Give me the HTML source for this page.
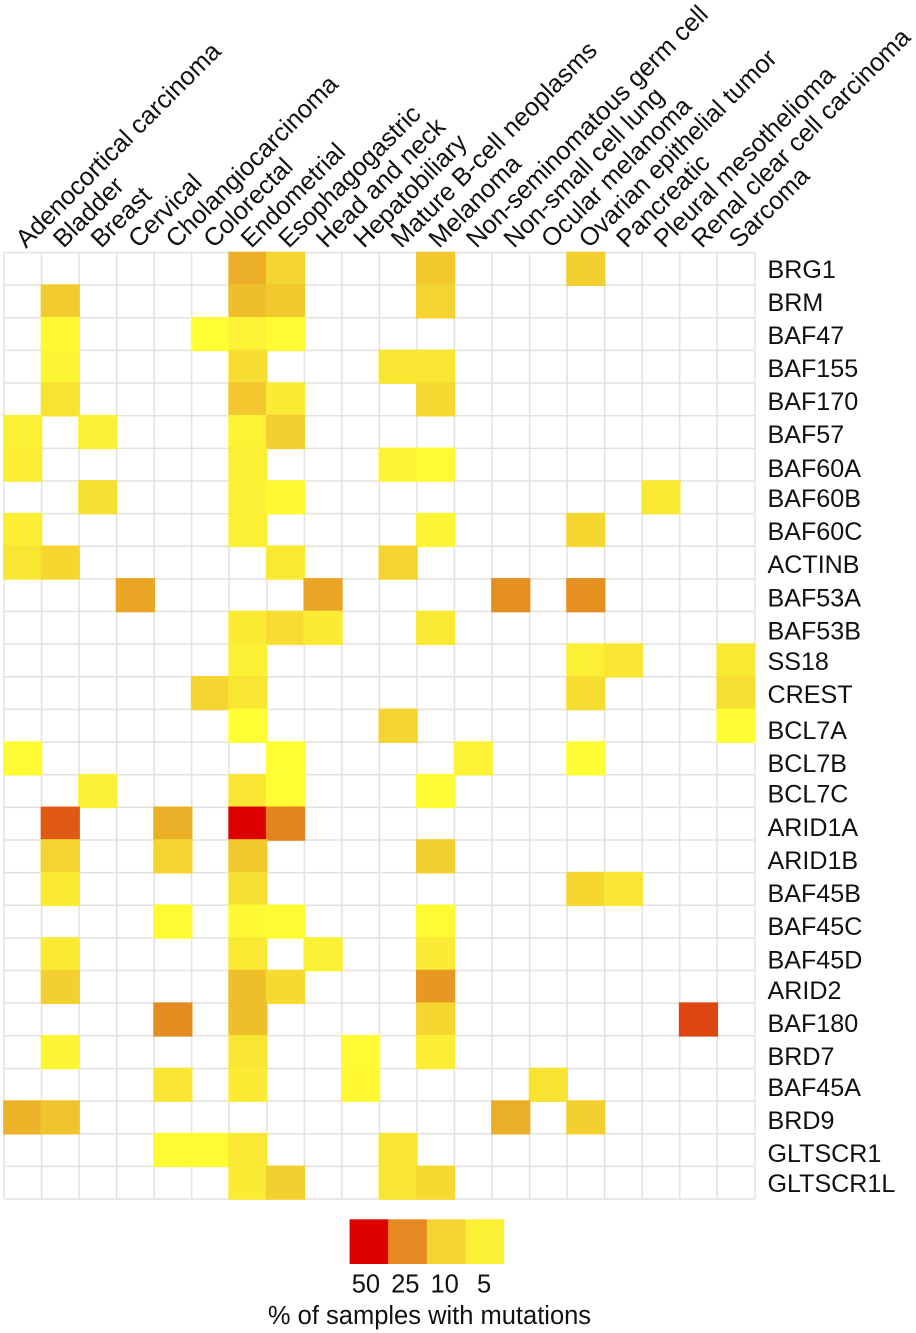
<!DOCTYPE html>
<html lang="en">
<head>
<meta charset="utf-8">
<title>SWI/SNF subunit mutation heatmap</title>
<style>
  html, body { margin: 0; padding: 0; background: #fff; }
  svg { display: block; }
  text { font-family: "Liberation Sans", Arial, sans-serif; fill: #111111; }
  .row-label { font-size: 25.1px; }
  .col-label { font-size: 25.35px; }
  .legend-text { font-size: 25.5px; }
</style>
</head>
<body>
<svg id="chart" width="916" height="1333" viewBox="0 0 916 1333" xmlns="http://www.w3.org/2000/svg">
  <rect x="0" y="0" width="916" height="1333" fill="#ffffff"/>
  <g id="grid"></g>
  <g id="cells"></g>
  <g id="col-labels"></g>
  <g id="row-labels">
    <text class="row-label" x="767.5" y="278">BRG1</text>
    <text class="row-label" x="767.5" y="311">BRM</text>
    <text class="row-label" x="767.5" y="344">BAF47</text>
    <text class="row-label" x="767.5" y="377">BAF155</text>
    <text class="row-label" x="767.5" y="410">BAF170</text>
    <text class="row-label" x="767.5" y="443">BAF57</text>
    <text class="row-label" x="767.5" y="477">BAF60A</text>
    <text class="row-label" x="767.5" y="507">BAF60B</text>
    <text class="row-label" x="767.5" y="540">BAF60C</text>
    <text class="row-label" x="767.5" y="573">ACTINB</text>
    <text class="row-label" x="767.5" y="606.5">BAF53A</text>
    <text class="row-label" x="767.5" y="639.5">BAF53B</text>
    <text class="row-label" x="767.5" y="670">SS18</text>
    <text class="row-label" x="767.5" y="703">CREST</text>
    <text class="row-label" x="767.5" y="739">BCL7A</text>
    <text class="row-label" x="767.5" y="772">BCL7B</text>
    <text class="row-label" x="767.5" y="802.5">BCL7C</text>
    <text class="row-label" x="767.5" y="836">ARID1A</text>
    <text class="row-label" x="767.5" y="869">ARID1B</text>
    <text class="row-label" x="767.5" y="902">BAF45B</text>
    <text class="row-label" x="767.5" y="935">BAF45C</text>
    <text class="row-label" x="767.5" y="968.5">BAF45D</text>
    <text class="row-label" x="767.5" y="999">ARID2</text>
    <text class="row-label" x="767.5" y="1032">BAF180</text>
    <text class="row-label" x="767.5" y="1065">BRD7</text>
    <text class="row-label" x="767.5" y="1096">BAF45A</text>
    <text class="row-label" x="767.5" y="1129">BRD9</text>
    <text class="row-label" x="767.5" y="1162">GLTSCR1</text>
    <text class="row-label" x="767.5" y="1192">GLTSCR1L</text>
  </g>
  <g id="legend">
    <g id="legend-swatches"></g>
    <g id="legend-ticks"></g>
    <text class="legend-text" x="429.5" y="1324" text-anchor="middle">% of samples with mutations</text>
  </g>
</svg>
<script>
const cancerTypes = ["Adenocortical carcinoma","Bladder","Breast","Cervical","Cholangiocarcinoma","Colorectal","Endometrial","Esophagogastric","Head and neck","Hepatobiliary","Mature B-cell neoplasms","Melanoma","Non-seminomatous germ cell","Non-small cell lung","Ocular melanoma","Ovarian epithelial tumor","Pancreatic","Pleural mesothelioma","Renal clear cell carcinoma","Sarcoma"];
const legendValues = [50, 25, 10, 5];
const colorStopValues = [2, 3.5, 5, 7, 10, 13, 17, 25, 33, 39, 50];
const colorStopHexes = ["#FFFF33","#FEF933","#FCF035","#F9E632","#F4D430","#F0C42C","#EBAE27","#E58A20","#E05A14","#DE4210","#DD0000"];
const brg1 = [0,0,0,0,0,0,17,10,0,0,0,12,0,0,0,11,0,0,0,0];
const brm = [0,11.5,0,0,0,0,14,12,0,0,0,10,0,0,0,0,0,0,0,0];
const baf47 = [0,3.5,0,0,0,2,4.5,3,0,0,0,0,0,0,0,0,0,0,0,0];
const baf155 = [0,4,0,0,0,0,8.5,0,0,0,7,7,0,0,0,0,0,0,0,0];
const baf170 = [0,7.5,0,0,0,0,12.5,6,0,0,0,9,0,0,0,0,0,0,0,0];
const baf57 = [5,0,5,0,0,0,4.5,11,0,0,0,0,0,0,0,0,0,0,0,0];
const baf60a = [5.5,0,0,0,0,0,5,0,0,0,4.5,3,0,0,0,0,0,0,0,0];
const baf60b = [0,0,8,0,0,0,5,3.5,0,0,0,0,0,0,0,0,0,6.5,0,0];
const baf60c = [5.5,0,0,0,0,0,5,0,0,0,0,4,0,0,0,9.5,0,0,0,0];
const actinb = [7,9.5,0,0,0,0,0,6.5,0,0,10,0,0,0,0,0,0,0,0,0];
const baf53a = [0,0,0,19,0,0,0,0,19,0,0,0,0,24,0,24,0,0,0,0];
const baf53b = [0,0,0,0,0,0,6,8.5,6,0,0,6.5,0,0,0,0,0,0,0,0];
const ss18 = [0,0,0,0,0,0,5,0,0,0,0,0,0,0,0,5,7,0,0,6.5];
const crest = [0,0,0,0,0,10,7,0,0,0,0,0,0,0,0,8.5,0,0,0,8];
const bcl7a = [0,0,0,0,0,0,2,0,0,0,10,0,0,0,0,0,0,0,0,2.5];
const bcl7b = [3,0,0,0,0,0,0,2,0,0,0,0,4.5,0,0,2.5,0,0,0,0];
const bcl7c = [0,0,5,0,0,0,7,2,0,0,0,2.5,0,0,0,0,0,0,0,0];
const arid1a = [0,33,0,0,17,0,50,26,0,0,0,0,0,0,0,0,0,0,0,0];
const arid1b = [0,10,0,0,10,0,12,0,0,0,0,11,0,0,0,0,0,0,0,0];
const baf45b = [0,6,0,0,0,0,8,0,0,0,0,0,0,0,0,9.5,7,0,0,0];
const baf45c = [0,0,0,0,3,0,3.5,3,0,0,0,3,0,0,0,0,0,0,0,0];
const baf45d = [0,6,0,0,0,0,6.5,0,5,0,0,6,0,0,0,0,0,0,0,0];
const arid2 = [0,11,0,0,0,0,14,9,0,0,0,22,0,0,0,0,0,0,0,0];
const baf180 = [0,0,0,0,24.5,0,14,0,0,0,0,9.5,0,0,0,0,0,0,38,0];
const brd7 = [0,4,0,0,0,0,7,0,0,3,0,5.5,0,0,0,0,0,0,0,0];
const baf45a = [0,0,0,0,7,0,6,0,0,3.5,0,0,0,0,7.5,0,0,0,0,0];
const brd9 = [16,13,0,0,0,0,0,0,0,0,0,0,0,17,0,11,0,0,0,0];
const gltscr1 = [0,0,0,0,3,3,6.5,0,0,0,7,0,0,0,0,0,0,0,0,0];
const gltscr1l = [0,0,0,0,0,0,6,11,0,0,7,9,0,0,0,0,0,0,0,0];
const rowValues = [brg1,brm,baf47,baf155,baf170,baf57,baf60a,baf60b,baf60c,actinb,baf53a,baf53b,ss18,crest,bcl7a,bcl7b,bcl7c,arid1a,arid1b,baf45b,baf45c,baf45d,arid2,baf180,brd7,baf45a,brd9,gltscr1,gltscr1l];

const SVG_NS = "http://www.w3.org/2000/svg";
const plot = { left: 4, right: 754.8, top: 252.5, bottom: 1199 };
const nCols = cancerTypes.length;
const nRows = rowValues.length;
const xStep = (plot.right - plot.left) / nCols;
const yStep = (plot.bottom - plot.top) / nRows;
function xScale(i) { return plot.left + i * xStep; }
function yScale(i) { return plot.top + i * yStep; }

function hexToRgb(h) {
  return [parseInt(h.slice(1,3),16), parseInt(h.slice(3,5),16), parseInt(h.slice(5,7),16)];
}
function colorScale(v) {
  if (v <= colorStopValues[0]) return colorStopHexes[0];
  for (let i = 1; i < colorStopValues.length; i++) {
    if (v <= colorStopValues[i]) {
      const t = (v - colorStopValues[i-1]) / (colorStopValues[i] - colorStopValues[i-1]);
      const a = hexToRgb(colorStopHexes[i-1]);
      const b = hexToRgb(colorStopHexes[i]);
      const c = a.map(function (ch, k) { return Math.round(ch + (b[k] - ch) * t); });
      return "rgb(" + c.join(",") + ")";
    }
  }
  return colorStopHexes[colorStopHexes.length - 1];
}
function make(tag, attrs) {
  const el = document.createElementNS(SVG_NS, tag);
  Object.keys(attrs).forEach(function (k) { el.setAttribute(k, attrs[k]); });
  return el;
}
function slug(s) { return s.toLowerCase().replace(/[^a-z0-9]+/g, "-"); }

const gridGroup = document.getElementById("grid");
for (let c = 0; c <= nCols; c++) {
  const line = make("line", { x1: xScale(c), x2: xScale(c), y1: plot.top, y2: plot.bottom, stroke: "#E2E2E2", "stroke-width": 1.5 });
  
  
  gridGroup.appendChild(line);
}
for (let r = 0; r <= nRows; r++) {
  const line = make("line", { x1: plot.left, x2: plot.right, y1: yScale(r), y2: yScale(r), stroke: "#E2E2E2", "stroke-width": 1.5 });
  
  
  gridGroup.appendChild(line);
}

const cellGroup = document.getElementById("cells");
rowValues.forEach(function (row, r) {
  row.forEach(function (v, c) {
    if (!v) return;
    const rect = make("rect", { x: xScale(c) - 0.9, y: yScale(r) - 0.8, width: xStep + 1.7, height: yStep + 1.6, fill: colorScale(v) });
    
    
    cellGroup.appendChild(rect);
  });
});

const colGroup = document.getElementById("col-labels");
cancerTypes.forEach(function (name, c) {
  const cx = xScale(c) + 22;
  const cy = 249;
  const t = make("text", { x: cx, y: cy, transform: "rotate(-45 " + cx + " " + cy + ")" });
  t.setAttribute('class', 'col-label');
  
  
  t.textContent = name;
  colGroup.appendChild(t);
});

const swatchLeft = 349.6;
const swatchStep = 38.6;
const swatches = document.getElementById("legend-swatches");
const ticks = document.getElementById("legend-ticks");
legendValues.forEach(function (v, i) {
  const x = swatchLeft + i * swatchStep;
  const s = make("rect", { x: x, y: 1219.3, width: swatchStep + 0.2, height: 44.7, fill: colorScale(v) });
  
  
  swatches.appendChild(s);
  const t = make("text", { x: x + swatchStep / 2 - 3 + i * 0.8, y: 1292.5, "text-anchor": "middle" });
  t.setAttribute('class', 'legend-text');
  
  
  t.textContent = String(v);
  ticks.appendChild(t);
});
</script>
</body>
</html>
